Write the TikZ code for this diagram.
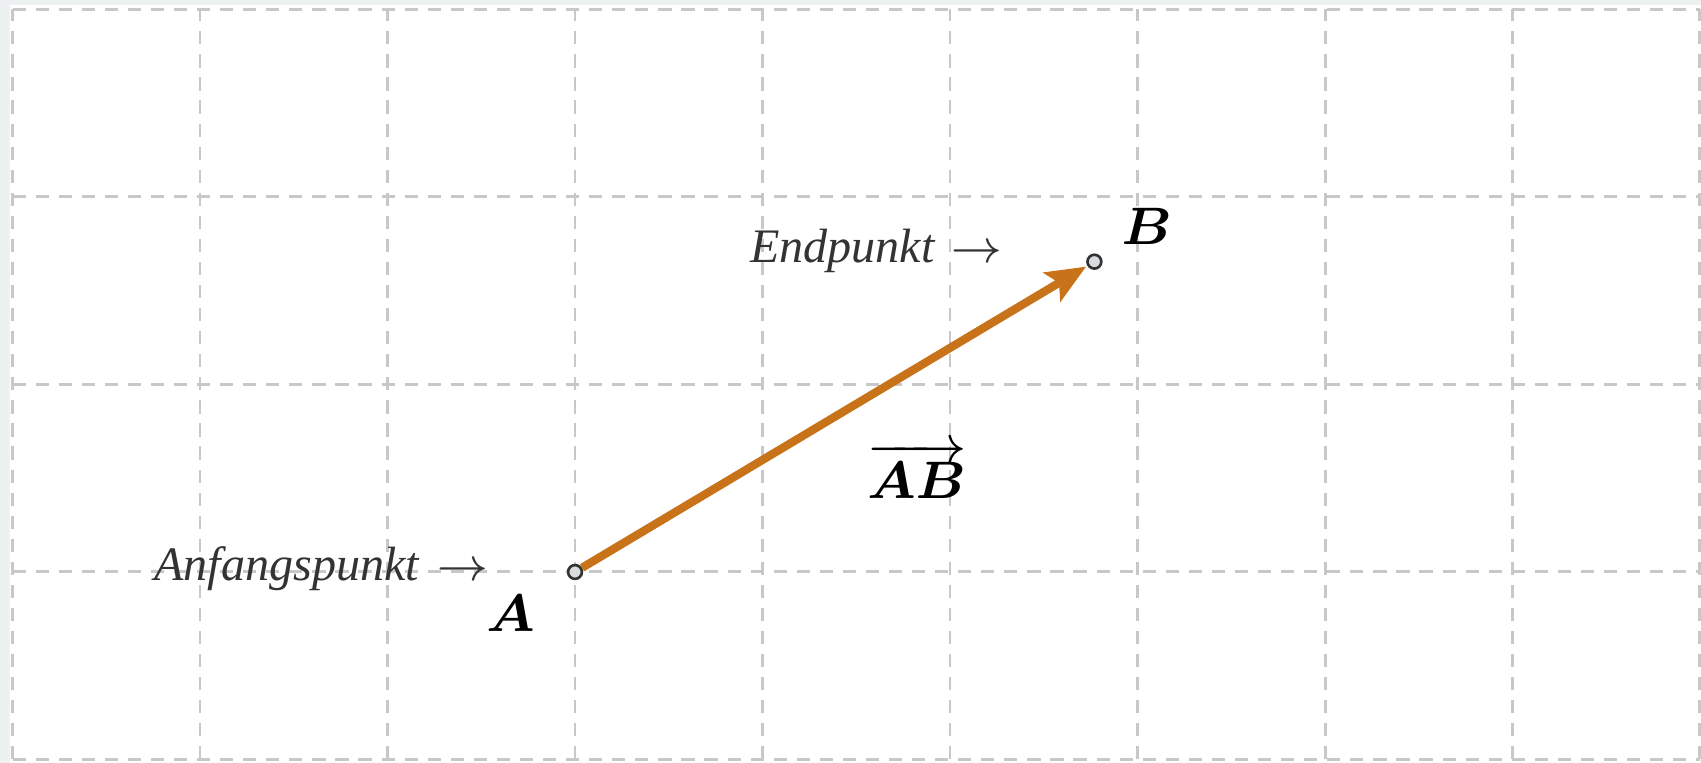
\documentclass[tikz,border=0pt]{standalone}
\usepackage{amsmath,amssymb,bm}
\usepackage{fontspec}
\setmainfont{Liberation Serif}
\usetikzlibrary{arrows.meta}
\definecolor{gridgray}{HTML}{C8C8C8}
\definecolor{vecorange}{HTML}{C8721A}
\definecolor{txtgray}{HTML}{333333}
\definecolor{ptfill}{HTML}{D8DCDF}
\definecolor{margin}{HTML}{EEF1F1}
\tikzset{
  gridline/.style={draw=gridgray, line width=0.45pt, dash pattern=on 2pt off 1.5pt},
  pt/.style={circle, draw=txtgray, fill=ptfill, line width=0.4pt, minimum size=2.1pt, inner sep=0pt},
  vec/.style={draw=vecorange, line width=1.25pt, -{Stealth[length=6pt,width=5pt,inset=1.2pt]}, shorten >=0.2pt},
  lbl/.style={text=txtgray, font=\fontsize{7.3}{9}\selectfont\itshape, inner sep=0pt},
  ptname/.style={text=black, font=\fontsize{8}{10}\selectfont, inner sep=0pt}
}
\begin{document}
\begin{tikzpicture}[x=1cm,y=1cm]
\useasboundingbox (-0.0667,-0.0187) rectangle (9.0053,4.0507);
\fill[margin] (-0.0667,-0.0187) rectangle (9.0053,4.0507);
\fill[white] (-0.013,-0.0187) rectangle (9.0053,4.024);
\draw[gridline] (0,0) grid (9,4);
\node[pt] (A) at (3,1) {};
\node[pt] (B) at (5.77,2.655) {};
\draw[vec] (A) -- (B);
\node[lbl, anchor=base east] (anf) at (2.547,0.957) {Anfangspunkt\hspace{0.8pt} $\rightarrow$};
\node[lbl, anchor=base east] (end) at (5.29,2.648) {Endpunkt\hspace{0.6pt} $\rightarrow$};
\node[ptname] (la) at (2.659,0.781) {$\bm{A}$};
\node[ptname] (lb) at (6.05,2.845) {$\bm{B}$};
\node[ptname] (lab) at (4.824,1.54) {$\overrightarrow{\bm{A}\bm{B}}$};
\end{tikzpicture}
\end{document}
